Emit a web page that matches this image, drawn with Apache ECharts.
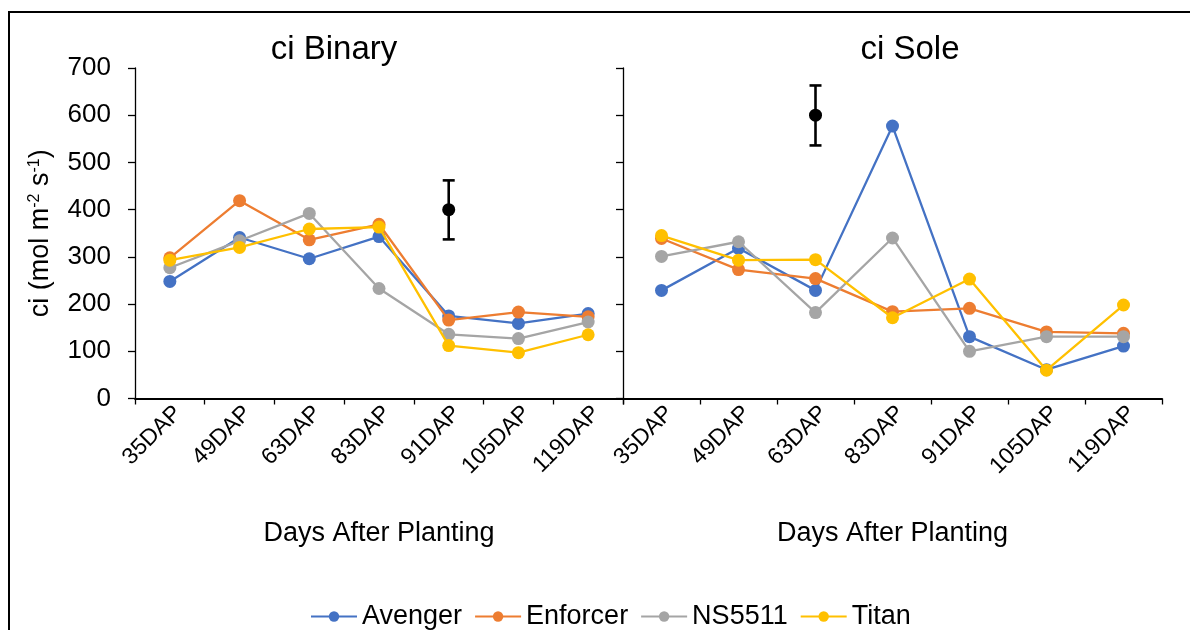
<!DOCTYPE html>
<html>
<head>
<meta charset="utf-8">
<script src="https://cdn.jsdelivr.net/npm/echarts@6/dist/echarts.min.js"></script>
<style>
html,body{margin:0;padding:0;background:#fff;}
#c{width:1190px;height:630px;}
</style>
</head>
<body>
<div id="c"></div>
<script>
const categories = ['35DAP','49DAP','63DAP','83DAP','91DAP','105DAP','119DAP'];
const seriesNames = ['Avenger','Enforcer','NS5511','Titan'];
const colors = ['#4472C4','#ED7D31','#A5A5A5','#FFC000'];
const yTicks = [0,100,200,300,400,500,600,700];

const binaryAvenger  = [248,341,296,343,175,159,180];
const binaryEnforcer = [298,419,336,369,166,183,173];
const binaryNS5511   = [277,334,392,233,136,127,162];
const binaryTitan    = [293,320,359,363,112,97,135];

const soleAvenger  = [229,318,229,577,131,61,111];
const soleEnforcer = [339,273,254,184,191,141,138];
const soleNS5511   = [301,332,182,340,100,131,131];
const soleTitan    = [345,293,294,171,253,60,198];

// error bars: [category, mean, low, high]
const binaryErr = [['91DAP',400,337,462]];
const soleErr   = [['63DAP',600,536,663]];

const binaryData = [binaryAvenger,binaryEnforcer,binaryNS5511,binaryTitan];
const soleData   = [soleAvenger,soleEnforcer,soleNS5511,soleTitan];

const FONT = 'Liberation Sans, Arial, sans-serif';

function xAxisCfg(idx){
  return {
    type:'category', gridIndex:idx, data:categories, boundaryGap:true,
    axisLine:{lineStyle:{color:'#000',width:1.8}},
    axisTick:{show:true,length:6,lineStyle:{color:'#000',width:1.3}},
    axisLabel:{interval:0,rotate:45,color:'#000',fontSize:23,fontFamily:FONT,margin:3,verticalAlign:'top'},
    name:'Days After Planting', nameLocation:'middle', nameGap:122,
    nameTextStyle:{color:'#000',fontSize:27,fontFamily:FONT}
  };
}
function yAxisCfg(idx, showLabels){
  const cfg = {
    type:'value', gridIndex:idx, min:0, max:yTicks[yTicks.length-1], interval:yTicks[1]-yTicks[0],
    axisLine:{show:true,lineStyle:{color:'#000',width:1.3}},
    axisTick:{show:true,inside:false,length:7,lineStyle:{color:'#000',width:1.3}},
    axisLabel:{show:showLabels,color:'#000',fontSize:26,fontFamily:FONT,margin:24},
    splitLine:{show:false}
  };
  if(showLabels){
    cfg.name = 'ci (mol m{sup|-2} s{sup|-1})';
    cfg.nameLocation = 'middle';
    cfg.nameRotate = 90;
    cfg.nameGap = 80;
    cfg.nameTextStyle = {color:'#000',fontSize:27,fontFamily:FONT,
      rich:{sup:{fontSize:16,verticalAlign:'top',color:'#000',fontFamily:FONT,padding:[0,0,12,0]}}};
  }
  return cfg;
}

function lineSeries(data, idx){
  return data.map((vals,i)=>({
    name:seriesNames[i], type:'line', xAxisIndex:idx, yAxisIndex:idx,
    data:vals, symbol:'circle', symbolSize:13, showAllSymbol:true,
    itemStyle:{color:colors[i]}, lineStyle:{color:colors[i],width:2.3},
    emphasis:{disabled:true}, animation:false, z:2+i
  }));
}

function errSeries(err, idx){
  return {
    type:'custom', xAxisIndex:idx, yAxisIndex:idx, animation:false, z:10,
    data:err.map(e=>[categories.indexOf(e[0]),e[1],e[2],e[3]]),
    renderItem:function(params, api){
      const c = api.value(0);
      const pm = api.coord([c, api.value(1)]);
      const pl = api.coord([c, api.value(2)]);
      const ph = api.coord([c, api.value(3)]);
      const cap = 6;
      const st = {stroke:'#000', lineWidth:2.6};
      return {type:'group', children:[
        {type:'line', shape:{x1:pm[0],y1:pl[1],x2:pm[0],y2:ph[1]}, style:st},
        {type:'line', shape:{x1:pm[0]-cap,y1:pl[1],x2:pm[0]+cap,y2:pl[1]}, style:st},
        {type:'line', shape:{x1:pm[0]-cap,y1:ph[1],x2:pm[0]+cap,y2:ph[1]}, style:st},
        {type:'circle', shape:{cx:pm[0],cy:pm[1],r:6.5}, style:{fill:'#000'}}
      ]};
    }
  };
}

const chart = echarts.init(document.getElementById('c'), null, {renderer:'canvas'});
chart.setOption({
  backgroundColor:'#fff',
  animation:false,
  textStyle:{fontFamily:FONT},
  title:[
    {text:'ci Binary', left:329, top:28, textAlign:'center',
     textStyle:{color:'#000',fontSize:33,fontWeight:'normal',fontFamily:FONT}},
    {text:'ci Sole', left:905, top:28, textAlign:'center',
     textStyle:{color:'#000',fontSize:33,fontWeight:'normal',fontFamily:FONT}}
  ],
  legend:{
    data:seriesNames, top:598, left:305,
    itemWidth:46, itemHeight:13, itemGap:12,
    textStyle:{color:'#000',fontSize:27,fontFamily:FONT}
  },
  grid:[
    {left:135, top:68, width:488, height:330.5},
    {left:623, top:68, width:539, height:330.5}
  ],
  xAxis:[xAxisCfg(0), xAxisCfg(1)],
  yAxis:[yAxisCfg(0,true), yAxisCfg(1,false)],
  graphic:[
    {type:'rect', shape:{x:9,y:12,width:1200,height:640}, style:{fill:null,stroke:'#000',lineWidth:2}, silent:true, z:100}
  ],
  series:[].concat(lineSeries(binaryData,0), lineSeries(soleData,1), [errSeries(binaryErr,0), errSeries(soleErr,1)])
});
</script>
</body>
</html>
